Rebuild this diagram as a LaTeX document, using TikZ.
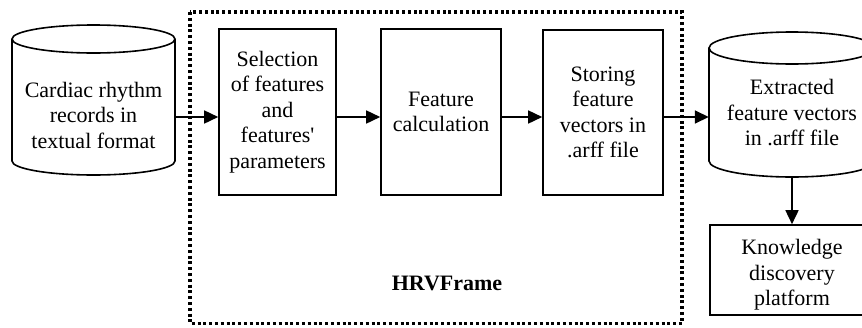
\documentclass[tikz,border=0pt]{standalone}
\usepackage{fontspec}
\setmainfont{Liberation Serif}
\usetikzlibrary{arrows.meta}

\tikzset{
  x=1pt, y=-1pt,
  lbl/.style={inner sep=0pt, align=center, font=\fontsize{22}{25.5}\selectfont},
  procbox/.style={draw, line width=1.6pt, inner sep=0pt, align=center,
    font=\fontsize{22}{25.5}\selectfont},
  cylline/.style={line width=1.6pt},
  arr/.style={line width=1.6pt, -{Triangle[length=14pt,width=13pt]}},
  hrvborder/.style={draw, line width=3.2pt, dash pattern=on 3pt off 2.8pt},
}

\begin{document}
\begin{tikzpicture}
\useasboundingbox (0,0) rectangle (862,327);
\clip (0,0) rectangle (862,327);

% HRVFrame boundary
\path[hrvborder] (190,12) rectangle (682,323.5);
\node[lbl, font=\fontsize{22}{25.5}\selectfont\bfseries] (hrv) at (447,283) {HRVFrame};

% source data store
\draw[cylline] (93.5,39) ellipse [x radius=81.5pt, y radius=14pt];
\draw[cylline] (12,39) -- (12,161) arc[start angle=180, end angle=360, x radius=81.5pt, y radius=14pt] -- (175,39);
\node[minimum width=163pt, minimum height=150pt, inner sep=0pt] (src) at (93.5,100) {};
\node[lbl] (srctxt) at (93.5,115) {Cardiac rhythm\\records in\\textual format};

% processing steps
\node[procbox, minimum width=117pt, minimum height=166pt] (sel) at (277.5,112)
  {Selection\\of features\\and\\features\textquotesingle\\parameters};
\node[procbox, minimum width=120pt, minimum height=166pt] (calc) at (441,112)
  {Feature\\calculation};
\node[procbox, minimum width=120pt, minimum height=165pt] (store) at (603,112.5)
  {Storing\\feature\\vectors in\\.arff file};

% output data store
\draw[cylline] (792,48) ellipse [x radius=83pt, y radius=16pt];
\draw[cylline] (709,48) -- (709,161) arc[start angle=180, end angle=360, x radius=83pt, y radius=16pt] -- (875,48);
\node[minimum width=166pt, minimum height=145pt, inner sep=0pt] (out) at (792,104.5) {};
\node[lbl] (outtxt) at (792,113) {Extracted\\feature vectors\\in .arff file};

% knowledge discovery
\node[procbox, minimum width=164pt, minimum height=90pt] (kd) at (792,270) {};
\node[lbl] (kdtxt) at (792,275) {Knowledge\\discovery\\platform};

% connectors
\coordinate (row) at (0,117);
\draw[arr] (src.east |- row) -- (sel.west |- row);
\draw[arr] (sel.east |- row) -- (calc.west |- row);
\draw[arr] (calc.east |- row) -- (store.west |- row);
\draw[arr] (store.east |- row) -- (out.west |- row);
\draw[arr] (out.south) -- (kd.north);
\end{tikzpicture}
\end{document}
